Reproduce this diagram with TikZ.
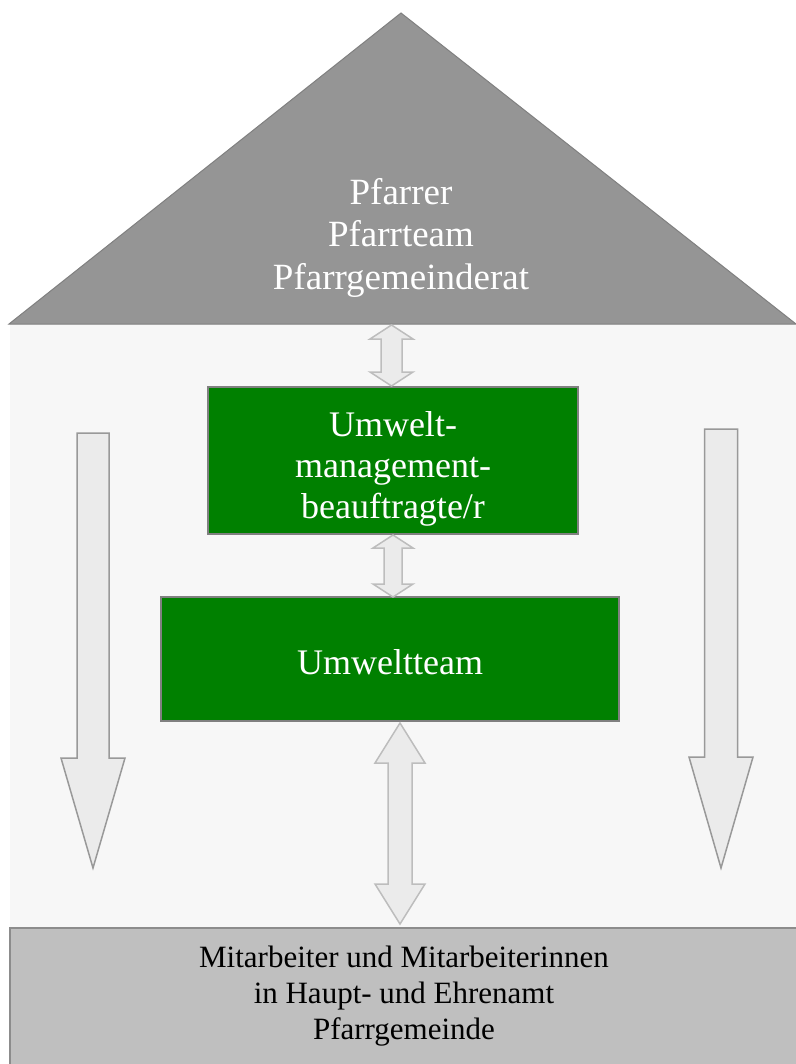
\documentclass[tikz,border=0pt]{standalone}
\usepackage{fontspec}
\setmainfont{Liberation Serif}
\definecolor{bodygray}{HTML}{F7F7F7}
\definecolor{roofgray}{HTML}{959595}
\definecolor{roofline}{HTML}{808080}
\definecolor{basegray}{HTML}{BFBFBF}
\definecolor{baseline}{HTML}{8C8C8C}
\definecolor{boxgreen}{HTML}{008000}
\definecolor{arrowfill}{HTML}{EBEBEB}
\definecolor{dblline}{HTML}{BDBDBD}
\definecolor{sglline}{HTML}{999999}
\tikzset{
  roof/.style={fill=roofgray, draw=roofline, line width=1pt, line join=miter},
  rooftext/.style={text=white, align=center, font=\fontsize{37}{42.5}\selectfont, inner sep=0pt, anchor=north},
  greenbox/.style={rectangle, fill=boxgreen, draw=roofline, line width=2pt, inner sep=0pt},
  greentext/.style={text=white, align=center, font=\fontsize{36}{41}\selectfont, inner sep=0pt},
  basebox/.style={fill=basegray, draw=baseline, line width=1.5pt},
  basetext/.style={text=black, align=center, font=\fontsize{31}{36}\selectfont, inner sep=0pt},
  dblarrowstyle/.style={fill=arrowfill, draw=dblline, line width=1.5pt, line join=miter},
  sglarrowstyle/.style={fill=arrowfill, draw=sglline, line width=1.5pt, line join=miter}
}
% #1 x centre, #2 top, #3 bottom, #4 head half width, #5 shaft half width, #6 head length
\newcommand\blockdbl[6]{%
  \draw[dblarrowstyle] (#1,#2) -- (#1+#4,#2+#6) -- (#1+#5,#2+#6) -- (#1+#5,#3-#6) -- (#1+#4,#3-#6)
    -- (#1,#3) -- (#1-#4,#3-#6) -- (#1-#5,#3-#6) -- (#1-#5,#2+#6) -- (#1-#4,#2+#6) -- cycle;}
% #1 x centre, #2 top, #3 head base, #4 tip, #5 head half width, #6 shaft half width
\newcommand\blocksgl[6]{%
  \draw[sglarrowstyle] (#1-#6,#2) -- (#1+#6,#2) -- (#1+#6,#3) -- (#1+#5,#3) -- (#1,#4)
    -- (#1-#5,#3) -- (#1-#6,#3) -- cycle;}
\begin{document}
\begin{tikzpicture}[x=1pt,y=-1pt]
\useasboundingbox (0,0) rectangle (795,1064);
\fill[white] (0,0) rectangle (795,1064);
% house body
\fill[bodygray] (10,324) rectangle (796,928);
% roof
\draw[roof] (9,324) -- (401,13) -- (796,324) -- cycle;
\node[rooftext] (pf) at (401,178) {Pfarrer\\Pfarrteam\\Pfarrgemeinderat};
% green boxes
\node[greenbox, minimum width=370pt, minimum height=147pt] (umb) at (393,460.5) {};
\node[greentext] (umbt) at ([yshift=-8pt]umb.center) {Umwelt-\\management-\\beauftragte/r};
\node[greenbox, minimum width=458pt, minimum height=124pt] (ut) at (390,659) {};
\node[greentext] (utt) at ([yshift=-3pt]ut.center) {Umweltteam};
% base
\draw[basebox] (10,928) rectangle (800,1070);
\node[basetext] (pg) at (404,996) {Mitarbeiter und Mitarbeiterinnen\\in Haupt- und Ehrenamt\\Pfarrgemeinde};
% double arrows
\blockdbl{391.5}{325}{386}{21.5}{10.5}{14}
\blockdbl{393}{535}{597}{20}{9}{13}
\blockdbl{400}{723}{924}{25}{12}{40}
% side arrows
\blocksgl{93}{433}{758}{868}{32}{16}
\blocksgl{721}{429}{757}{868}{32}{16.5}
\end{tikzpicture}
\end{document}
